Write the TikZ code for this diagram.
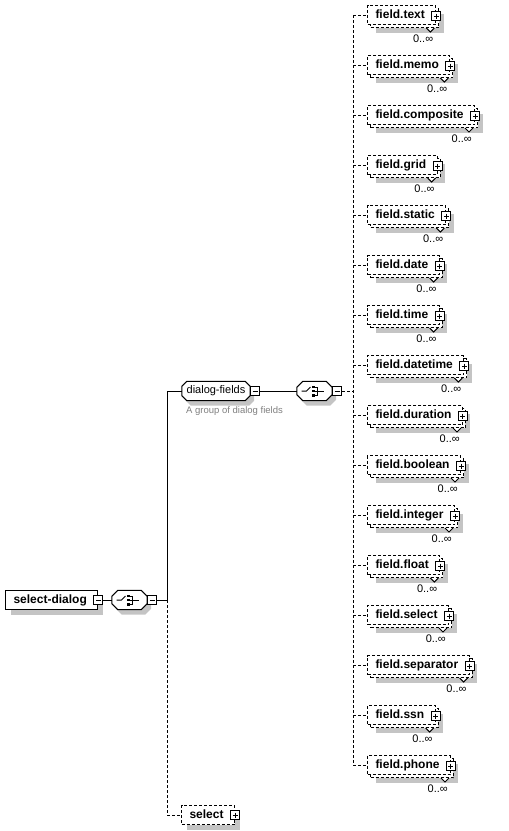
\documentclass[tikz,border=0pt]{standalone}
\usepackage{fontspec}
\setmainfont{Liberation Sans}
\usetikzlibrary{calc,shadows}
\definecolor{shadowgray}{RGB}{196,196,196}
\definecolor{notegray}{RGB}{128,128,128}
\pgfdeclarelayer{shade}
\pgfdeclarelayer{under}
\pgfsetlayers{shade,under,main}

% octagonal outline (chamfered corners) around a node
\newcommand\chamferpath[3]{%
  \path[#3] ([xshift=#2]#1.north west) -- ([xshift=-#2]#1.north east)
    -- ([yshift=-#2]#1.north east) -- ([yshift=#2]#1.south east)
    -- ([xshift=-#2]#1.south east) -- ([xshift=#2]#1.south west)
    -- ([yshift=#2]#1.south west) -- ([yshift=-#2]#1.north west) -- cycle;}

% compositor / group shape with its drop shadow
\newcommand\groupshape[2]{%
  \begin{pgfonlayer}{shade}
    \chamferpath{#1}{#2}{fill=shadowgray, transform canvas={shift={(4pt,-5pt)}}}
  \end{pgfonlayer}
  \begin{pgfonlayer}{under}
    \chamferpath{#1}{#2}{draw=black, fill=white, line width=1pt}
  \end{pgfonlayer}}

\tikzset{
  dashline/.style={dash pattern=on 3pt off 2pt},
  conn/.style={line width=1pt},
  boldlabel/.style={font=\bfseries\fontsize{12}{14}\selectfont, text height=8.6pt, text depth=2.4pt},
  elembox/.style={boldlabel, draw, fill=white, line width=1pt, inner sep=0pt,
    minimum height=19pt, anchor=west,
    general shadow={fill=shadowgray, shadow xshift=5pt, shadow yshift=-5pt}},
  optbox/.style={elembox, dashline},
  multibox/.style={boldlabel, draw, fill=white, line width=1pt, dashline, inner sep=0pt,
    minimum height=19pt, anchor=west,
    general shadow={fill=shadowgray, shadow xshift=8pt, shadow yshift=-8pt},
    general shadow={draw=black, fill=white, shadow xshift=3pt, shadow yshift=-3pt}},
  groupbox/.style={inner sep=0pt, minimum height=19pt, text height=8pt, text depth=2.5pt},
  togglebox/.style={draw, solid, fill=white, line width=1pt, inner sep=0pt, minimum size=9pt},
  minusbox/.style={togglebox, path picture={
    \draw[line width=1pt] ([xshift=2pt]path picture bounding box.west)
      -- ([xshift=-2pt]path picture bounding box.east);}},
  plusbox/.style={togglebox, path picture={
    \draw[line width=1pt] ([xshift=2pt]path picture bounding box.west)
      -- ([xshift=-2pt]path picture bounding box.east);
    \draw[line width=1pt] ([yshift=-2pt]path picture bounding box.north)
      -- ([yshift=2pt]path picture bounding box.south);}},
  card/.style={font=\fontsize{11}{13}\selectfont, inner sep=0pt, anchor=east},
  note/.style={font=\fontsize{9.5}{11}\selectfont, text=notegray, inner sep=0pt, anchor=west},
  seqicon/.pic={
    \draw[line width=1pt] (-13,0) -- (-8,0) -- (-4,-4);
    \fill (-2.5,-5.5) rectangle (0,-3);
    \fill (-2.5,-1.25) rectangle (0,1.25);
    \fill (-2.5,3) rectangle (0,5.5);
    \draw[line width=1pt] (0,-4) -- (3,-4) -- (3,4) -- (0,4) (0,0) -- (9,0);
  }
}

\begin{document}
\begin{tikzpicture}[x=1pt, y=-1pt]
\useasboundingbox (0,0) rectangle (509,831);

% root element
\node[elembox] (root) at (5,600) {\kern8pt select-dialog\kern11pt};
\node[minusbox] (rootm) at (root.east) {};

% sequence of the root
\node[groupbox, minimum width=35pt] (seq1) at (129.5,600) {};
\groupshape{seq1}{6pt}
\pic at (seq1.center) {seqicon};
\node[minusbox, anchor=west] (seq1m) at (seq1.east) {};
\coordinate (j1) at ($(seq1m.east)+(10,0)$);

% group reference
\node[groupbox, font=\fontsize{11}{13}\selectfont, minimum width=68pt] (grp) at (216,391) {dialog-fields};
\groupshape{grp}{5pt}
\node[minusbox, anchor=west] (grpm) at (grp.east) {};
\node[note] (grpnote) at (186,411) {A group of dialog fields};

% sequence inside the group
\node[groupbox, minimum width=35pt] (seq2) at (314.5,391) {};
\groupshape{seq2}{6pt}
\pic at (seq2.center) {seqicon};
\node[minusbox, anchor=west] (seq2m) at (seq2.east) {};
\coordinate (j2) at ($(seq2m.east)+(11,0)$);

% optional select element
\node[optbox] (sel) at (181,815) {\kern8pt select\kern11pt};
\node[plusbox] (selp) at (sel.east) {};

% repeating field elements
\foreach \fname [count=\i] in {text,memo,composite,grid,static,date,time,datetime,duration,boolean,integer,float,select,separator,ssn,phone}{
  \node[multibox] (f\i) at (367,{15+50*(\i-1)}) {\kern8pt field.\fname\kern11pt};
  \node[plusbox] (f\i p) at ([yshift=-1pt]f\i.east) {};
  \fill[white] ([xshift=-10pt,yshift=-3pt]f\i.south east) -- ++(4,4) -- ++(4,-4) -- cycle;
  \draw[line width=1pt] ([xshift=-10pt,yshift=-3pt]f\i.south east) -- ++(4,4) -- ++(4,-4);
  \node[card] (c\i) at ([xshift=-3pt,yshift=-24pt]f\i.east) {0..∞};
}

% connectors
\draw[conn] (rootm.east) -- (seq1.west);
\draw[conn] (seq1m.east) -- (j1);
\draw[conn] (j1) |- (grp.west);
\draw[conn, dashline] (j1) |- (sel.west);
\draw[conn] (grpm.east) -- (seq2.west);
\draw[conn, dashline] (seq2m.east) -- (j2);
\draw[conn, dashline] (j2 |- f1.west) -- (j2 |- f16.west);
\foreach \i in {1,...,16}{
  \draw[conn, dashline] (j2 |- f\i.west) -- (f\i.west);
}
\end{tikzpicture}
\end{document}
